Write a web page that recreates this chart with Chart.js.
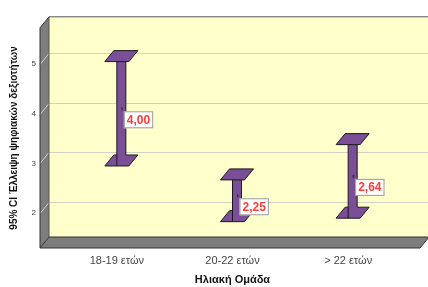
<!DOCTYPE html>
<html>
<head>
<meta charset="utf-8">
<script src="https://cdn.jsdelivr.net/npm/chart.js@4/dist/chart.umd.min.js"></script>
<style>
  body { margin: 0; background: #fff; }
  #wrap { width: 428px; height: 287px; }
</style>
</head>
<body>
<div id="wrap"><canvas id="ci" width="428" height="287"></canvas></div>
<script>
// --- data ---
const groups = ['18-19 ετών', '20-22 ετών', '> 22 ετών'];
const lows   = [2.95, 1.83, 1.90];
const highs  = [5.05, 2.67, 3.38];
const means  = [4.00, 2.25, 2.64];
const yTicks = [2, 3, 4, 5];

// 3D look: depth offset of the back wall, bars sit half way
const DX = 9, DY = -11;
const PURPLE = '#7b4f98';

const wallPlugin = {
  id: 'walls',
  beforeDraw(chart) {
    const { ctx, chartArea: a, scales: { y } } = chart;
    const L = a.left - 19, R = a.right + 14, T = a.top, B = a.bottom;
    ctx.save();
    // back wall
    ctx.fillStyle = '#ffffcc';
    ctx.fillRect(L + DX, T + DY, R - L + 20, B - T);
    // side wall + floor
    ctx.fillStyle = '#7d7d7d';
    ctx.beginPath();
    ctx.moveTo(L, T); ctx.lineTo(L + DX, T + DY); ctx.lineTo(L + DX, B + DY); ctx.lineTo(L, B);
    ctx.closePath(); ctx.fill();
    ctx.beginPath();
    ctx.moveTo(L, B); ctx.lineTo(L + DX, B + DY); ctx.lineTo(R + DX, B + DY); ctx.lineTo(R, B);
    ctx.closePath(); ctx.fill();
    // grid lines, back wall and side wall
    ctx.strokeStyle = '#d2d2c4';
    ctx.lineWidth = 1;
    yTicks.forEach(v => {
      const py = Math.round(y.getPixelForValue(v)) + 0.5;
      ctx.beginPath();
      ctx.moveTo(L, py); ctx.lineTo(L + DX, py + DY); ctx.lineTo(R + 30, py + DY);
      ctx.stroke();
    });
    // edges
    ctx.strokeStyle = '#555';
    ctx.beginPath();
    ctx.moveTo(L + DX, B + DY); ctx.lineTo(L + DX, T + DY); ctx.lineTo(R + 30, T + DY);
    ctx.stroke();
    ctx.strokeStyle = '#333';
    ctx.beginPath();
    ctx.moveTo(L + DX, T + DY); ctx.lineTo(L, T); ctx.lineTo(L, B); ctx.lineTo(R, B); ctx.lineTo(R + DX, B + DY);
    ctx.moveTo(L, B); ctx.lineTo(L + DX, B + DY); ctx.lineTo(R + 30, B + DY);
    ctx.stroke();
    ctx.restore();
  },
  afterDatasetsDraw(chart) {
    const { ctx, scales: { x, y } } = chart;
    const mx = DX / 2, my = DY / 2;
    const cap = (cx, cy) => {
      ctx.beginPath();
      ctx.moveTo(cx - 12 - mx, cy - my);
      ctx.lineTo(cx + 12 - mx, cy - my);
      ctx.lineTo(cx + 12 + mx, cy + my);
      ctx.lineTo(cx - 12 + mx, cy + my);
      ctx.closePath();
      ctx.fill(); ctx.stroke();
    };
    ctx.save();
    ctx.fillStyle = PURPLE;
    ctx.strokeStyle = '#1a1a1a';
    ctx.lineWidth = 1;
    groups.forEach((g, i) => {
      const cx = x.getPixelForValue(i) + mx;
      const yHi = y.getPixelForValue(highs[i]) + my;
      const yLo = y.getPixelForValue(lows[i]) + my;
      cap(cx, yLo);
      ctx.fillRect(cx - 4.5, yHi, 9, yLo - yHi);
      ctx.beginPath();
      ctx.moveTo(cx - 4.5, yHi); ctx.lineTo(cx - 4.5, yLo - my);
      ctx.moveTo(cx + 4.5, yHi); ctx.lineTo(cx + 4.5, yLo + my);
      ctx.stroke();
      cap(cx, yHi);
    });
    // mean labels
    ctx.font = 'bold 12px "Liberation Sans", Arial, sans-serif';
    ctx.textBaseline = 'middle';
    groups.forEach((g, i) => {
      const cx = x.getPixelForValue(i) + mx;
      const ym = y.getPixelForValue(means[i]) + my;
      ctx.fillStyle = '#333';
      ctx.fillRect(cx, ym - 1, 1.5, 3);
      const txt = means[i].toFixed(2).replace('.', ',');
      const w = ctx.measureText(txt).width + 6;
      const bx = cx + 2.5, by = ym + 3;
      ctx.fillStyle = '#fff';
      ctx.fillRect(bx, by, w, 17);
      ctx.strokeStyle = '#9a9a9a';
      ctx.strokeRect(bx + 0.5, by + 0.5, w - 1, 16);
      ctx.fillStyle = '#ff3b3b';
      ctx.fillText(txt, bx + 3, by + 9);
    });
    ctx.restore();
  }
};

new Chart(document.getElementById('ci'), {
  type: 'bar',
  data: {
    labels: groups,
    datasets: [{
      data: groups.map((g, i) => [lows[i], highs[i]]),
      backgroundColor: 'rgba(0,0,0,0)',
      borderWidth: 0
    }]
  },
  options: {
    responsive: false,
    animation: false,
    layout: { padding: { top: 24, right: 22, left: 0, bottom: 0 } },
    plugins: { legend: { display: false }, tooltip: { enabled: false } },
    scales: {
      x: {
        grid: { display: false, drawTicks: false },
        border: { display: false },
        ticks: { color: '#444', font: { family: '"Liberation Sans", Arial', size: 11 }, padding: 6 },
        title: {
          display: true, text: 'Ηλιακή Ομάδα', color: '#111',
          font: { family: '"Liberation Sans", Arial', size: 11, weight: 'bold' },
          padding: { top: 0, bottom: 0 }
        },
        afterFit: s => { s.height = 39; }
      },
      y: {
        min: 1.3, max: 5.73,
        afterBuildTicks: s => { s.ticks = yTicks.map(v => ({ value: v })); },
        grid: { display: false, drawTicks: false },
        border: { display: false },
        ticks: { color: '#444', font: { family: '"Liberation Sans", Arial', size: 8 }, padding: 23 },
        title: {
          display: true, text: '95% CI Έλλειψη ψηφιακών δεξιοτήτων', color: '#111',
          font: { family: '"Liberation Sans", Arial', size: 10, weight: 'bold' },
          padding: { top: 8, bottom: 0 }
        },
        afterFit: s => { s.width = 59; }
      }
    }
  },
  plugins: [wallPlugin]
});
</script>
</body>
</html>
